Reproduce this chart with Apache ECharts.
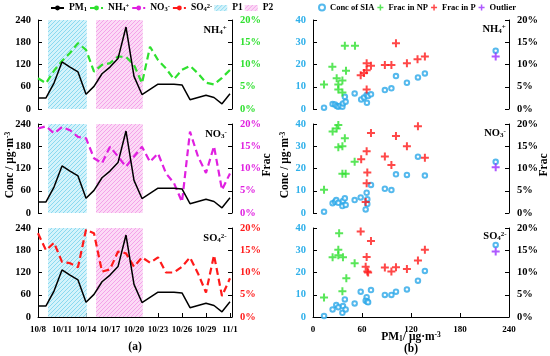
<!DOCTYPE html>
<html><head><meta charset="utf-8">
<script src="https://cdn.jsdelivr.net/npm/echarts@6/dist/echarts.min.js"></script>
<style>html,body{margin:0;padding:0;background:#fff}#c{width:550px;height:356px}</style>
</head><body><div id="c"></div>
<script>
// ---------- DATA ----------
const tickLabels = ['10/8','10/11','10/14','10/17','10/20','10/23','10/26','10/29','11/1'];
const dayIdx = [0,1,2,3,4,5,6,7,8,9,10,11,12,13,14,15,16,17,18,19,20,21,22,23,24];
const pm1 = [30,30,70,127,113,100,40,61,95,113,136,221,88,39,53,67,67,67,65,25,31,37,31,14,41];
const nh4Frac = [6.9,5.8,8.6,10.8,12.6,14.8,13.3,8.4,9.9,10.3,11.8,11.7,9.9,5.8,14.0,11.0,9.1,6.7,8.8,9.7,8.0,5.9,5.5,7.0,8.8];
const no3Frac = [19.0,19.5,17.9,19.3,18.6,17.1,16.8,12.3,11.2,14.9,12.7,10.4,12.7,14.9,11.5,13.4,8.9,6.7,2.5,18.3,12.7,9.0,15.0,5.2,8.9];
const so4Frac = [18.8,15.0,16.7,12.4,12.1,11.2,19.6,18.8,10.2,10.7,14.7,14.3,11.3,13.4,12.2,13.4,10.0,10.0,11.3,13.4,9.8,5.5,13.9,4.7,8.7];
const periodP1 = [1.25, 6.1];
const periodP2 = [7.25, 13.1];

const nh4Conc = [[13.5,0.6],[24,2.2],[27,2.0],[29,1.3],[31,1.0],[33.5,1.5],[36,1.0],[36.7,2.5],[40,3.3],[39,5.5],[51,7.0],[59,4.3],[62.5,5.2],[65.7,6.3],[67.5,5.8],[71,6.6],[66,2.8],[88,8.5],[96,9.3],[101.6,14.8],[115,11.8],[128.5,14.2],[137,16],[223.7,26.2]];
const nh4NP = [[39,14.2],[51.4,14.2],[23.7,9.5],[13.5,5.5],[29,6.9],[31,5.5],[36,6.4],[40.4,8.6],[31,4.4],[36,3.7]];
const nh4P = [[101.6,14.8],[128,11.2],[137,11.8],[65.7,10.3],[71,9.7],[58.4,7.6],[62.5,8.1],[65.7,8.7],[88,9.9],[96,9.9],[115,10.3],[65.7,4.4]];
const nh4Out = [[223.7,11.8]];

const no3Conc = [[13.5,0.6],[24,4.4],[27,5.1],[28.5,5.8],[31,4.6],[36.7,5.4],[39,6.6],[36,3.1],[40,3.6],[51,5.8],[58.4,7.0],[65.7,9.1],[66.5,6.2],[66.5,4.0],[64.5,1.6],[71,12.6],[88,10.9],[96,10.3],[101.6,17.4],[115,17.1],[128.5,25.3],[137,16.8],[223.7,23]];
const no3NP = [[31,19.8],[29,19.0],[24,18.3],[39,16.8],[31,14.8],[36,15.0],[51,11.5],[36,8.8],[40,8.8],[13.5,5.2]];
const no3P = [[128.5,19.5],[71,18.0],[101.6,17.3],[115,15.0],[65.7,13.9],[88,12.7],[59,12.1],[137,12.4],[96,10.8],[66.5,9.1],[65.7,6.7],[64.5,2.5]];
const no3Out = [[223.7,10.3]];

const so4Conc = [[13.5,0.5],[24,3.4],[28.5,5.4],[31,4.4],[36,1.9],[36.7,4.9],[40,3.4],[39,7.9],[51,6.1],[58.4,11.4],[71,12.1],[65.7,8.9],[64.5,7.3],[66.5,6.9],[67.5,6.6],[88,9.9],[96,9.9],[101.6,11.4],[115,12.4],[128.5,16.3],[137,20.7],[223.7,32.4]];
const so4NP = [[32,18.8],[31,15.1],[31,13.9],[24,13.4],[36.7,13.4],[51,12.1],[40.8,8.7],[36,5.8],[13.5,4.4]];
const so4P = [[58.4,19.2],[71,17.1],[65.7,13.5],[128.5,12.7],[137,15.1],[64.5,11.3],[66.5,10.2],[67.5,10.0],[88,11.1],[96,10.2],[101.6,11.2],[115,10.8]];
const so4Out = [[223.7,14.7]];

// ---------- STYLE ----------
const FF = 'Liberation Serif';
const C = {green:'#2fe02f', magenta:'#e020e0', red:'#ff1a1a', blue:'#2aa8e8', purple:'#9a30ff', axisBlue:'#2fb0ea'};
function hatch(bg, fg){
  const c = document.createElement('canvas'); c.width = 4; c.height = 4;
  const x = c.getContext('2d');
  x.fillStyle = bg; x.fillRect(0,0,4,4);
  x.strokeStyle = fg; x.lineWidth = 1;
  x.beginPath();
  x.moveTo(0,4); x.lineTo(4,0);
  x.moveTo(-1,1); x.lineTo(1,-1);
  x.moveTo(3,5); x.lineTo(5,3);
  x.stroke();
  return {image:c, repeat:'repeat'};
}
const patP1 = hatch('#d4f3fb','#8ad9f0');
const patP2 = hatch('#fcdaf6','#f3a3e9');

function mkRich(fs, ss){
  return {
    t:{fontFamily:FF, fontWeight:'bold', fontSize:fs, color:'#000'},
    sb:{fontFamily:FF, fontWeight:'bold', fontSize:ss, color:'#000', verticalAlign:'bottom'},
    sp:{fontFamily:FF, fontWeight:'bold', fontSize:ss, color:'#000', verticalAlign:'top'}
  };
}
const rich = mkRich(10.5, 7);
const richLeg = mkRich(9.5, 6.5);
const richLeg2 = mkRich(8.5, 6.5);
const rich12 = mkRich(11.5, 7.5);
const legendNames = {
  PM1:'{t|PM}{sb|1}', NH4:'{t|NH}{sb|4}{sp|+}', NO3:'{t|NO}{sb|3}{sp|-}', SO4:'{t|SO}{sb|4}{sp|2-}', P1:'{t|P1}', P2:'{t|P2}'
};

const LT = [20,124,228], PH = 89;
const grids = [];
LT.forEach(t=>grids.push({left:38, top:t, width:194, height:PH}));
LT.forEach(t=>grids.push({left:313, top:t, width:196, height:PH}));

const lbl = (color, fs)=>({fontFamily:FF, fontWeight:'bold', fontSize:fs||10.5, color:color||'#000'});
const axLine = {show:true, lineStyle:{color:'#000', width:1}};
const axTick = {show:true, inside:true, length:4, lineStyle:{color:'#000', width:1}};

const xAxes = [];
for (let i=0;i<3;i++){
  const bottom = i===2;
  xAxes.push({type:'value', gridIndex:i, min:0, max:24.25, interval:3,
    show:bottom, axisLine:axLine, axisTick:axTick, splitLine:{show:false},
    axisLabel:{...lbl('#000', 9), margin:8, formatter:v=> (Math.abs(v%3)<1e-6 ? tickLabels[Math.round(v/3)] : '')}});
}
for (let i=0;i<3;i++){
  const bottom = i===2;
  xAxes.push({type:'value', gridIndex:3+i, min:0, max:240, interval:60,
    show:bottom, axisLine:axLine, axisTick:axTick, splitLine:{show:false},
    axisLabel:{...lbl('#000', 9), margin:8}});
}
const fracColors = [C.green, C.magenta, C.red];
const yAxes = [];
for (let i=0;i<3;i++){
  yAxes.push({type:'value', gridIndex:i, min:0, max:240, interval:60, position:'left',
    axisLine:axLine, axisTick:axTick, splitLine:{show:false}, axisLabel:{...lbl(), margin:7}});
  yAxes.push({type:'value', gridIndex:i, min:0, max:20, interval:5, position:'right',
    axisLine:axLine, axisTick:axTick, splitLine:{show:false}, axisLabel:{...lbl(fracColors[i]), margin:8, formatter:'{value}%'}});
}
for (let i=0;i<3;i++){
  yAxes.push({type:'value', gridIndex:3+i, min:0, max:40, interval:10, position:'left',
    axisLine:axLine, axisTick:axTick, splitLine:{show:false}, axisLabel:{...lbl(C.axisBlue), margin:7}});
  yAxes.push({type:'value', gridIndex:3+i, min:0, max:20, interval:5, position:'right',
    axisLine:axLine, axisTick:axTick, splitLine:{show:false}, axisLabel:{...lbl(), margin:8, formatter:'{value}%'}});
}

const pairs = (xs, ys)=> xs.map((d,i)=>[d, ys[i]]);
const fracSets = [['NH4', nh4Frac], ['NO3', no3Frac], ['SO4', so4Frac]];
const cross = 'path://M3,0H5V3H8V5H5V8H3V5H0V3H3Z';
const series = [];
for (let i=0;i<3;i++){
  series.push({name:'P1', type:'bar', xAxisIndex:i, yAxisIndex:2*i, data:[], itemStyle:{color:patP1}, z:1,
    markArea:{silent:true, itemStyle:{color:patP1}, data:[[{xAxis:periodP1[0]},{xAxis:periodP1[1]}]]}});
  series.push({name:'P2', type:'bar', xAxisIndex:i, yAxisIndex:2*i, data:[], itemStyle:{color:patP2}, z:1,
    markArea:{silent:true, itemStyle:{color:patP2}, data:[[{xAxis:periodP2[0]},{xAxis:periodP2[1]}]]}});
  series.push({name:'PM1', type:'line', xAxisIndex:i, yAxisIndex:2*i, data:pairs(dayIdx, pm1),
    symbol:'none', itemStyle:{color:'#000'}, lineStyle:{color:'#000', width:1.5}, z:4});
  series.push({name:fracSets[i][0], type:'line', xAxisIndex:i, yAxisIndex:2*i+1, data:pairs(dayIdx, fracSets[i][1]),
    symbol:'none', itemStyle:{color:fracColors[i]}, lineStyle:{color:fracColors[i], width:2.2, type:[7,4]}, z:3});
}
const scat = [[nh4Conc, nh4NP, nh4P, nh4Out],[no3Conc, no3NP, no3P, no3Out],[so4Conc, so4NP, so4P, so4Out]];
for (let i=0;i<3;i++){
  series.push({name:'Conc of SIA', type:'scatter', xAxisIndex:3+i, yAxisIndex:6+2*i, data:scat[i][0],
    symbol:'emptyCircle', symbolSize:4.5, itemStyle:{color:C.blue, borderColor:C.blue, borderWidth:1.2}});
  series.push({name:'Frac in NP', type:'scatter', xAxisIndex:3+i, yAxisIndex:7+2*i, data:scat[i][1],
    symbol:cross, symbolSize:8, itemStyle:{color:C.green}});
  series.push({name:'Frac in P', type:'scatter', xAxisIndex:3+i, yAxisIndex:7+2*i, data:scat[i][2],
    symbol:cross, symbolSize:8, itemStyle:{color:C.red}});
  series.push({name:'Outlier', type:'scatter', xAxisIndex:3+i, yAxisIndex:7+2*i, data:scat[i][3],
    symbol:cross, symbolSize:8, itemStyle:{color:C.purple}});
}

const txt = (x,y,text)=>({type:'text', x, y, style:{text, rich:rich, textAlign:'center', textVerticalAlign:'middle'}});
const big = (x,y,text,rot)=>({type:'text', x, y, rotation:rot||0, style:{text, rich:rich12, textAlign:'center', textVerticalAlign:'middle'}});
const graphics = [
  txt(215,30,legendNames.NH4), txt(216,134,legendNames.NO3), txt(215,238,legendNames.SO4),
  txt(494,29,legendNames.NH4), txt(495,133,legendNames.NO3), txt(495,236,legendNames.SO4),
  big(10,165,'{t|Conc / μg·m}{sp|-3}',Math.PI/2),
  big(267,165,'{t|Frac}',Math.PI/2),
  big(285,165,'{t|Conc / μg·m}{sp|-3}',Math.PI/2),
  big(544,165,'{t|Frac}',Math.PI/2),
  big(411,337,'{t|PM}{sb|1}{t|/ μg·m}{sp|-3}'),
  big(135,347,'{t|(a)}'),
  big(411,349,'{t|(b)}')
];

const chart = echarts.init(document.getElementById('c'), null, {renderer:'canvas'});
chart.setOption({
  animation:false,
  backgroundColor:'#fff',
  grid:grids, xAxis:xAxes, yAxis:yAxes, series,
  legend:[
    {left:50, top:0, padding:[3,0,0,0], itemWidth:13, itemHeight:6, itemGap:2, align:'left',
     data:['PM1','NH4','NO3','SO4',{name:'P1', icon:'rect'},{name:'P2', icon:'rect'}],
     formatter:n=>legendNames[n], textStyle:{rich:richLeg}},
    {left:318, top:0, padding:[3,0,0,0], itemWidth:6, itemHeight:6, itemGap:3, align:'left',
     data:['Conc of SIA','Frac in NP','Frac in P','Outlier'],
     formatter:n=>'{t|'+n+'}', textStyle:{rich:richLeg2}}
  ],
  graphic:graphics
});
</script></body></html>
